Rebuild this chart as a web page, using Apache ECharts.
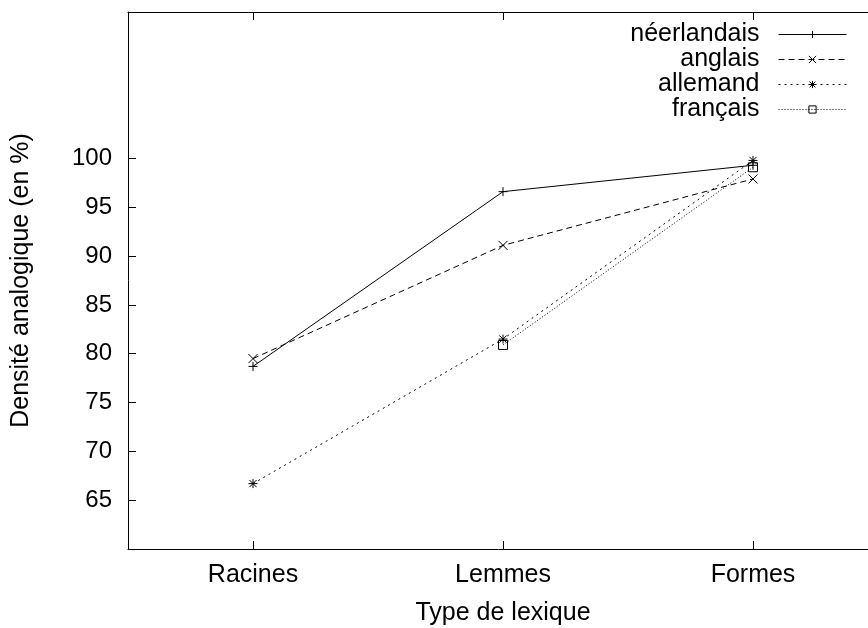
<!DOCTYPE html>
<html>
<head>
<meta charset="utf-8">
<script src="https://cdn.jsdelivr.net/npm/echarts@6/dist/echarts.min.js"></script>
<style>
  html, body { margin: 0; padding: 0; background: #fff; }
  #chart { width: 868px; height: 628px; }
</style>
</head>
<body>
<div id="chart"></div>
<script>
var categories = ['Racines', 'Lemmes', 'Formes'];
var yTicks = [65, 70, 75, 80, 85, 90, 95, 100];
var neerlandais = [78.7, 96.6, 99.3];
var anglais = [79.5, 91.1, 97.9];
var allemand = [66.7, 81.5, 99.8];
var francais = ['-', 80.9, 99.1];

var FONT = '"Liberation Sans", Arial, sans-serif';

// symboles façon gnuplot
var symPlus = 'path://M0,5 L10,5 M5,0 L5,10';
var symCross = 'path://M0,0 L10,10 M10,0 L0,10';
var symStar = 'path://M0,5 L10,5 M5,0 L5,10 M1,1 L9,9 M9,1 L1,9';
var symSquare = 'path://M0,0 L10,0 L10,10 L0,10 Z';

function makeSeries(name, data, symbol, dash) {
    return {
        name: name,
        type: 'line',
        data: data,
        symbol: symbol,
        symbolSize: 9,
        connectNulls: false,
        itemStyle: { color: 'transparent', borderColor: '#000', borderWidth: 1 },
        lineStyle: { color: '#000', width: 1, type: dash },
        emphasis: { disabled: true }
    };
}

var tickStyle = { show: true, inside: true, length: 8, lineStyle: { color: '#000', width: 1 } };

var myChart = echarts.init(document.getElementById('chart'));
var option = {
    backgroundColor: '#fff',
    animation: false,
    textStyle: { fontFamily: FONT, color: '#000' },
    grid: { left: 128, top: 12, bottom: 79, right: -10, containLabel: false, outerBoundsMode: 'none' },
    legend: {
        orient: 'vertical',
        align: 'right',
        right: 16,
        top: 17,
        itemWidth: 68,
        itemHeight: 9,
        itemGap: 0,
        lineStyle: { width: 1 },
        itemStyle: { borderWidth: 1 },
        textStyle: { fontSize: 25, color: '#000', fontFamily: FONT, lineHeight: 25, padding: [0, 14, 0, 0] },
        data: ['néerlandais', 'anglais', 'allemand', 'français']
    },
    xAxis: [
        {
            type: 'category',
            data: categories,
            boundaryGap: true,
            position: 'bottom',
            name: 'Type de lexique',
            nameLocation: 'middle',
            nameGap: 52,
            nameTextStyle: { fontSize: 25, color: '#000', fontFamily: FONT },
            axisLine: { show: true, lineStyle: { color: '#000', width: 1 } },
            axisTick: Object.assign({ alignWithLabel: true, interval: 0 }, tickStyle),
            axisLabel: { fontSize: 25, color: '#000', fontFamily: FONT, margin: 14 },
            splitLine: { show: false }
        },
        {
            type: 'category',
            data: categories,
            boundaryGap: true,
            position: 'top',
            axisLine: { show: true, lineStyle: { color: '#000', width: 1 } },
            axisTick: Object.assign({ alignWithLabel: true, interval: 0 }, tickStyle),
            axisLabel: { show: false },
            splitLine: { show: false }
        }
    ],
    yAxis: {
        type: 'value',
        min: 60,
        max: 115,
        interval: 5,
        name: 'Densité analogique (en %)',
        nameLocation: 'middle',
        nameGap: 94,
        nameTextStyle: { fontSize: 25, color: '#000', fontFamily: FONT },
        axisLine: { show: true, lineStyle: { color: '#000', width: 1 } },
        axisTick: Object.assign({ customValues: yTicks }, tickStyle),
        axisLabel: { fontSize: 24, color: '#000', fontFamily: FONT, margin: 16, customValues: yTicks },
        splitLine: { show: false }
    },
    series: [
        makeSeries('néerlandais', neerlandais, symPlus, 'solid'),
        makeSeries('anglais', anglais, symCross, [6, 4]),
        makeSeries('allemand', allemand, symStar, [2, 4]),
        makeSeries('français', francais, symSquare, [1, 2])
    ]
};
myChart.setOption(option);
</script>
</body>
</html>
